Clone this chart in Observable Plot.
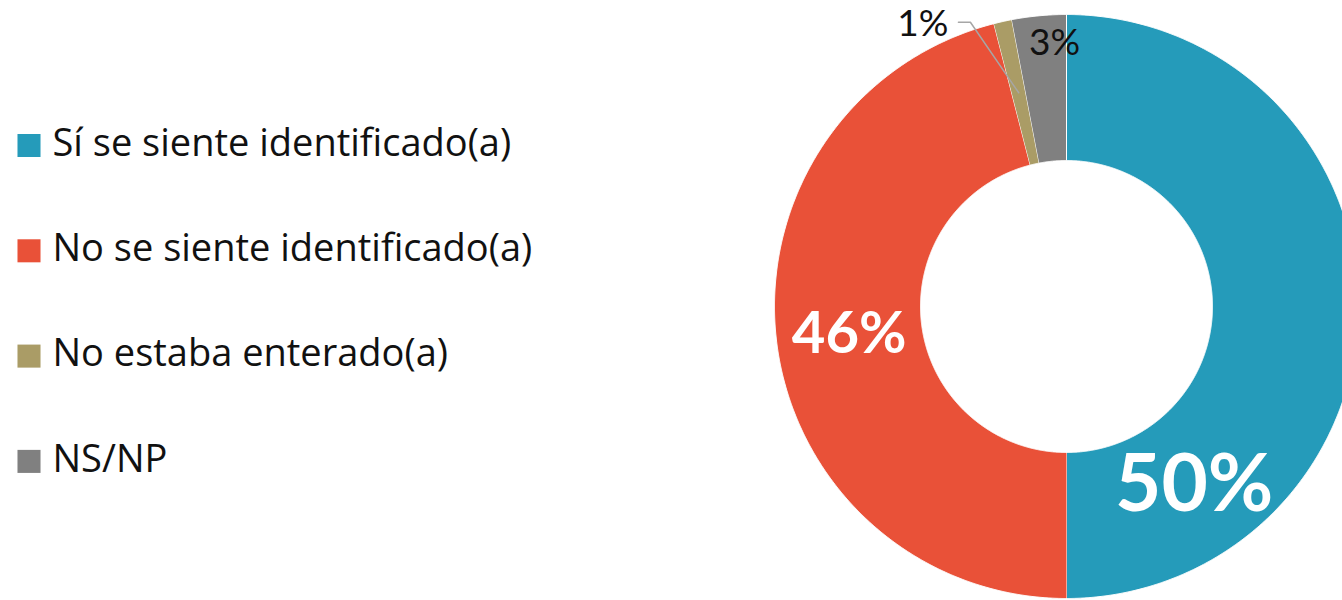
<!DOCTYPE html>
<html>
<head>
<meta charset="utf-8">
<script src="https://cdn.jsdelivr.net/npm/d3@7"></script>
<script src="https://cdn.jsdelivr.net/npm/@observablehq/plot@0.6"></script>
<style>
  html, body { margin: 0; padding: 0; background: white; overflow: hidden; }
</style>
</head>
<body>
<div id="chart"></div>
<script>
// ---- data ----
const categories = ["Sí se siente identificado(a)", "No se siente identificado(a)", "No estaba enterado(a)", "NS/NP"];
const values = [50, 46, 1, 3];
const valueLabels = ["50%", "46%", "1%", "3%"];
const colors = ["#259bba", "#e95138", "#aa9c66", "#808080"];

// ---- layout ----
const W = 1342, H = 600;
const cx = 1066, cy = 306, rIn = 146, rOut = 292;
const deg = Math.PI / 180;
const labelLayout = [
  {angle: 144.5, r: 220, size: 80, inside: true},
  {angle: null, r: 219, size: 58, inside: true},
  {angle: -22.7, r: 306, size: 37, inside: false, anchor: "end", leader: true},
  {angle: -2.6, r: 264, size: 37, inside: false, anchor: "middle"}
];
const legendX = 28.5, legendTextX = 52, legendY0 = 145, legendStep = 105.3;

const px = (a, r) => cx + r * Math.sin(a);
const py = (a, r) => cy - r * Math.cos(a);

const arcs = d3.pie().sort(null).value(d => d)(values);

const slices = [];
arcs.forEach((p, i) => {
  const n = Math.max(4, Math.ceil((p.endAngle - p.startAngle) / (0.2 * deg)));
  for (let k = 0; k <= n; k++) {
    const a = p.startAngle + (p.endAngle - p.startAngle) * k / n;
    slices.push({cat: categories[i], x: px(a, rOut), y: py(a, rOut)});
  }
  for (let k = n; k >= 0; k--) {
    const a = p.startAngle + (p.endAngle - p.startAngle) * k / n;
    slices.push({cat: categories[i], x: px(a, rIn), y: py(a, rIn)});
  }
});

const labels = arcs.map((p, i) => {
  const L = labelLayout[i];
  const a = L.angle == null ? (p.startAngle + p.endAngle) / 2 : L.angle * deg;
  return {text: valueLabels[i], x: px(a, L.r), y: py(a, L.r), size: L.size, inside: L.inside,
          anchor: L.anchor || "middle", mid: (p.startAngle + p.endAngle) / 2, leader: !!L.leader};
});

const leaders = [];
labels.forEach((l, i) => {
  if (!l.leader) return;
  leaders.push({id: i, x: l.x + 10, y: l.y - 2});
  leaders.push({id: i, x: l.x + 22, y: l.y - 2});
  leaders.push({id: i, x: px(l.mid, (rIn + rOut) / 2), y: py(l.mid, (rIn + rOut) / 2)});
});

const legend = categories.map((c, i) => ({cat: c, y: legendY0 + i * legendStep}));

const chart = Plot.plot({
  width: W, height: H,
  margin: 0,
  x: {domain: [0, W], range: [0, W], axis: null},
  y: {domain: [0, H], range: [0, H], axis: null},
  color: {domain: categories, range: colors},
  style: {fontFamily: "Lato, 'Open Sans', sans-serif", background: "white"},
  marks: [
    Plot.line(slices, {x: "x", y: "y", z: "cat", fill: "cat", stroke: "white", strokeWidth: 1, curve: "linear", clip: true}),
    Plot.line(leaders, {x: "x", y: "y", z: "id", stroke: "#a6a6a6", strokeWidth: 1.5}),
    Plot.text(labels.filter(d => d.inside), {x: "x", y: "y", text: "text", fontSize: "size", fontWeight: "bold", fill: "white", textAnchor: "middle"}),
    Plot.text(labels.filter(d => !d.inside && d.anchor === "end"), {x: "x", y: "y", text: "text", fontSize: "size", fill: "#111", textAnchor: "end"}),
    Plot.text(labels.filter(d => !d.inside && d.anchor !== "end"), {x: "x", y: "y", text: "text", fontSize: "size", fill: "#111", textAnchor: "middle"}),
    Plot.dot(legend, {x: legendX, y: "y", symbol: "square", r: 13, fill: "cat"}),
    Plot.text(legend, {x: legendTextX, y: d => d.y - 2, text: "cat", textAnchor: "start", fontSize: 38, fontFamily: "'Open Sans', sans-serif", fill: "#111"})
  ]
});
document.getElementById("chart").appendChild(chart);
</script>
</body>
</html>
